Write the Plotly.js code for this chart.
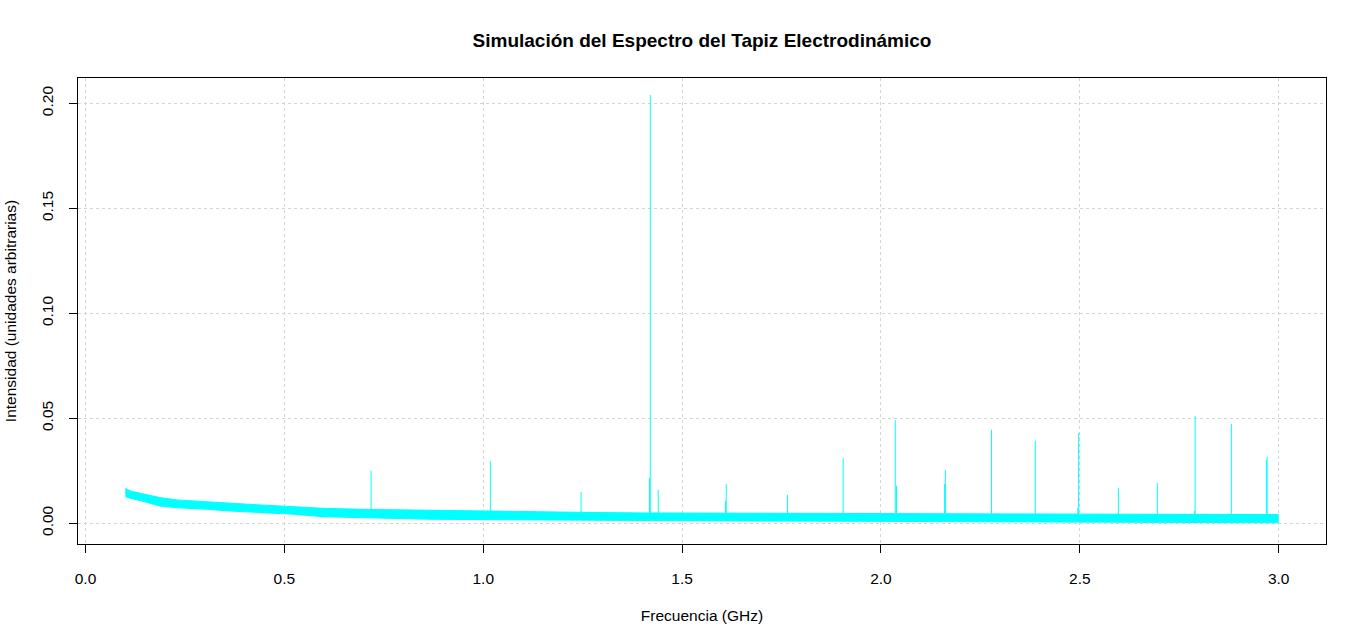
<!DOCTYPE html>
<html>
<head>
<meta charset="utf-8">
<script src="https://cdn.plot.ly/plotly-3.0.1.min.js"></script>
<style>
  body { margin: 0; background: #fff; }
  #myDiv { width: 1366px; height: 642px; }
</style>
</head>
<body>
<div id="myDiv"></div>
<script>
// noise floor band (upper / lower edge of the cyan trace)
var bandFreq  = [0.100, 0.112, 0.137, 0.162, 0.187, 0.229, 0.270, 0.310, 0.355, 0.439, 0.522, 0.597, 0.700, 0.800, 0.866, 1.000, 1.135, 1.280, 1.400, 1.600, 1.800, 2.000, 2.200, 2.400, 2.600, 2.800, 2.900, 3.000];
var bandUpper = [0.0167, 0.0154, 0.0143, 0.0132, 0.0122, 0.0111, 0.0106, 0.0102, 0.0095, 0.0087, 0.0079, 0.0071, 0.0066, 0.0063, 0.0060, 0.0056, 0.0052, 0.0051, 0.0049, 0.0048, 0.0047, 0.0046, 0.0045, 0.0044, 0.0043, 0.0043, 0.0042, 0.0041];
var bandLower = [0.0127, 0.0119, 0.0108, 0.0095, 0.0082, 0.0074, 0.0071, 0.0066, 0.0059, 0.0052, 0.0043, 0.0031, 0.0026, 0.0022, 0.0019, 0.0017, 0.0015, 0.0014, 0.0013, 0.0011, 0.0010, 0.0009, 0.0007, 0.0006, 0.0005, 0.0004, 0.0003, 0.0002];

// spectral lines
var lineFreq = [0.718, 1.018, 1.246, 1.418, 1.420, 1.440, 1.609, 1.611, 1.765, 1.905, 2.036, 2.039, 2.160, 2.162, 2.278, 2.388, 2.495, 2.497, 2.597, 2.695, 2.788, 2.790, 2.881, 2.969, 2.971];
var linePeak = [0.0250, 0.0297, 0.0149, 0.0216, 0.2040, 0.0159, 0.0106, 0.0187, 0.0135, 0.0311, 0.0492, 0.0178, 0.0187, 0.0254, 0.0445, 0.0393, 0.0073, 0.0430, 0.0168, 0.0192, 0.0059, 0.0511, 0.0473, 0.0302, 0.0317];
var lineBase = [0.0030, 0.0030, 0.0030, 0.0030, 0.0030, 0.0030, 0.0028, 0.0028, 0.0027, 0.0026, 0.0025, 0.0025, 0.0024, 0.0024, 0.0024, 0.0023, 0.0023, 0.0023, 0.0022, 0.0022, 0.0022, 0.0022, 0.0021, 0.0021, 0.0021];

var xTicks = [0, 0.5, 1, 1.5, 2, 2.5, 3];
var yTicks = [0, 0.05, 0.10, 0.15, 0.20];

var cyan = '#00FFFF';
var fnt = 'Liberation Sans, Arial, sans-serif';

var lower = {
  x: bandFreq, y: bandLower,
  type: 'scatter', mode: 'lines',
  line: {color: cyan, width: 1},
  hoverinfo: 'skip', showlegend: false
};
var upper = {
  x: bandFreq, y: bandUpper,
  type: 'scatter', mode: 'lines',
  fill: 'tonexty', fillcolor: cyan,
  line: {color: cyan, width: 1},
  hoverinfo: 'skip', showlegend: false
};

var sx = [], sy = [];
for (var i = 0; i < lineFreq.length; i++) {
  sx.push(lineFreq[i], lineFreq[i], null);
  sy.push(lineBase[i], linePeak[i], null);
}
var spikes = {
  x: sx, y: sy,
  type: 'scatter', mode: 'lines',
  line: {color: cyan, width: 1},
  connectgaps: false, showlegend: false
};

var layout = {
  width: 1366, height: 642,
  margin: {l: 78, r: 40, t: 78, b: 98},
  paper_bgcolor: '#fff', plot_bgcolor: '#fff',
  font: {family: fnt, size: 15.5, color: '#000'},
  showlegend: false,
  title: {
    text: 'Simulación del Espectro del Tapiz Electrodinámico',
    font: {family: fnt, size: 19, weight: 'bold', color: '#000'},
    xref: 'paper', x: 0.5, xanchor: 'center',
    yref: 'container', y: 1 - 40 / 642, yanchor: 'middle'
  },
  xaxis: {
    range: [-0.0189, 3.119],
    tickvals: xTicks, tickformat: '.1f',
    ticks: 'outside', ticklen: 8, tickcolor: '#000', tickwidth: 1,
    ticklabelstandoff: 12,
    showline: true, mirror: true, linecolor: '#000', linewidth: 1,
    showgrid: true, gridcolor: '#d3d3d3', griddash: 'dot', gridwidth: 1,
    zeroline: false,
    title: {text: 'Frecuencia (GHz)', standoff: 24, font: {family: fnt, size: 15.5}}
  },
  yaxis: {
    range: [-0.0099, 0.2121],
    tickvals: yTicks, tickformat: '.2f', tickangle: -90,
    ticks: 'outside', ticklen: 8, tickcolor: '#000', tickwidth: 1,
    ticklabelstandoff: 10,
    showline: true, mirror: true, linecolor: '#000', linewidth: 1,
    showgrid: true, gridcolor: '#d3d3d3', griddash: 'dot', gridwidth: 1,
    zeroline: false,
    title: {text: 'Intensidad (unidades arbitrarias)', standoff: 18, font: {family: fnt, size: 15.5}}
  }
};

Plotly.newPlot('myDiv', [lower, upper, spikes], layout, {displayModeBar: false, staticPlot: true});
</script>
</body>
</html>
